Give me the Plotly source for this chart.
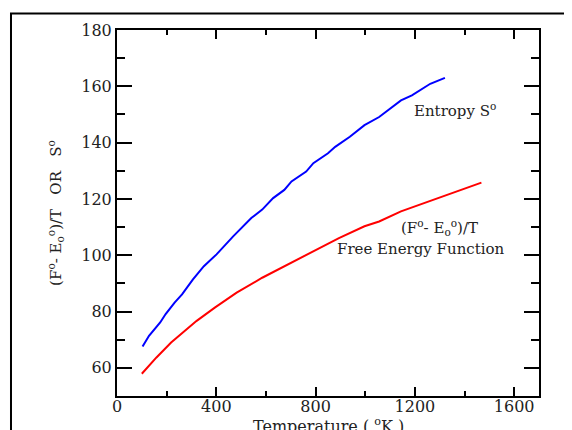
import plotly.graph_objects as go

# Entropy S° (blue)
T_entropy = [103, 129, 174, 196, 232, 262, 306, 350, 401, 468, 541, 585, 629, 674,
             703, 762, 791, 850, 879, 938, 997, 1056, 1144, 1188, 1262, 1321]
S_entropy = [67.6, 71.4, 76.1, 79.1, 83.2, 86.1, 91.4, 96.1, 100.3, 106.7, 113.2, 116.2,
             120.3, 123.2, 126.2, 129.7, 132.7, 136.2, 138.5, 142.1, 146.2, 149.1, 155.0,
             156.8, 160.9, 163.0]

# Free energy function (F° - E°0)/T (red)
T_free = [100, 129, 159, 218, 276, 321, 394, 482, 585, 703, 791, 894, 997, 1056,
          1144, 1291, 1379, 1468]
F_free = [57.9, 60.8, 63.7, 69.0, 73.2, 76.7, 81.4, 86.7, 92.0, 97.3, 101.4, 106.1,
          110.3, 112.0, 115.6, 120.3, 123.2, 125.8]

x_ticks = [0, 400, 800, 1200, 1600]
y_ticks = [60, 80, 100, 120, 140, 160, 180]

FONT = "DejaVu Serif"

fig = go.Figure()
fig.add_trace(go.Scatter(x=T_entropy, y=S_entropy, mode="lines",
                         line=dict(color="#0000ff", width=2), showlegend=False))
fig.add_trace(go.Scatter(x=T_free, y=F_free, mode="lines",
                         line=dict(color="#ff0000", width=2), showlegend=False))

axis_common = dict(showline=True, linecolor="black", linewidth=2, mirror="ticks",
                   ticks="inside", tickcolor="black", tickwidth=2,
                   showgrid=False, zeroline=False, automargin=False,
                   tickfont=dict(family=FONT, size=16, color="#222"))

fig.update_xaxes(range=[0, 1700], tickvals=x_ticks, ticklen=9, ticklabelstandoff=-5,
                 minor=dict(dtick=200, tick0=0, ticklen=5, tickwidth=2,
                            tickcolor="black", ticks="inside", showgrid=False),
                 **axis_common)
fig.update_yaxes(range=[50, 180], tickvals=y_ticks, ticklen=15,
                 minor=dict(dtick=10, tick0=0, ticklen=8, tickwidth=2,
                            tickcolor="black", ticks="inside", showgrid=False),
                 title=dict(text="(F<sup>o</sup>- E<sub>o</sub><sup>o</sup>)/T   OR   S<sup>o</sup>",
                            standoff=16,
                            font=dict(family=FONT, size=15, color="#222")),
                 **axis_common)

# x-axis title (partly below the visible page, as in the reference)
fig.add_annotation(x=0.5, y=-0.047, xref="paper", yref="paper", yanchor="top",
                   text="Temperature ( <sup>o</sup>K )", showarrow=False,
                   font=dict(family=FONT, size=16, color="#222"))

ann_font = dict(family=FONT, size=15, color="#222")
fig.add_annotation(x=1362, y=151.6, text="Entropy S<sup>o</sup>", showarrow=False,
                   font=ann_font, xref="x", yref="y")
fig.add_annotation(x=1301, y=110.0, text="(F<sup>o</sup>- E<sub>o</sub><sup>o</sup>)/T",
                   showarrow=False, font=ann_font, xref="x", yref="y")
fig.add_annotation(x=1225, y=102.2, text="Free Energy Function", showarrow=False,
                   font=ann_font, xref="x", yref="y")

# outer frame
fig.add_shape(type="rect", xref="paper", yref="paper",
              x0=-0.2512, x1=1.3, y0=-0.3, y1=1.045,
              line=dict(color="black", width=2), layer="below")

# page body adds an 8px offset, so margins are shifted to compensate
fig.update_layout(width=572, height=430,
                  margin=dict(l=109, r=41, t=22, b=42),
                  paper_bgcolor="white", plot_bgcolor="white",
                  font=dict(family=FONT, color="#222"))

fig.write_html("out.html")
